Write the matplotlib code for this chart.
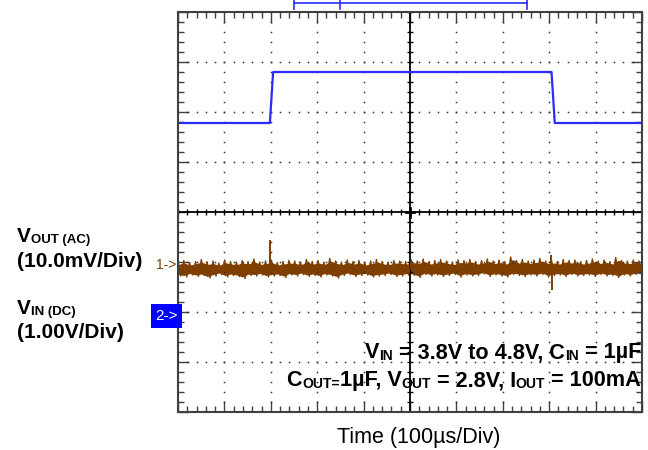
import numpy as np
import matplotlib.pyplot as plt
from matplotlib.transforms import IdentityTransform, blended_transform_factory

plt.rcParams['font.family'] = ['Liberation Sans', 'DejaVu Sans']

W, H = 648, 450

# channel 2 (VIN, 1 V/div, reference at -2 div) - time in us, level in divisions
vin_t = [-500, -302, -295, 305, 312, 500]
vin_div = [1.78, 1.78, 2.80, 2.80, 1.78, 1.78]

# channel 1 (VOUT AC, 10 mV/div) - noise band edges
vout_upper = [-1.00, -0.97, -1.01, -0.99, -0.95, -1.00, -0.98, -1.02, -0.96, -0.99,
              -1.00, -0.97, -0.99, -0.94, -1.00, -0.98, -0.96, -1.01, -0.99, -0.97,
              -0.98, -1.00, -0.95, -0.99, -0.97, -1.00, -0.93, -0.98, -1.00, -0.96,
              -0.99, -0.97, -1.01, -0.98, -0.95, -0.99, -1.00, -0.97, -0.98, -0.99,
              -0.96, -0.98, -0.94, -0.99, -0.97, -0.95, -0.98, -1.00, -0.96, -0.97,
              -0.95, -0.99, -0.97, -0.94, -0.98, -0.96, -0.99, -0.90, -0.97, -0.95,
              -0.98, -0.96, -0.93, -0.98, -0.97, -0.99, -0.95, -0.97, -0.96, -0.99,
              -0.97, -0.94, -0.98, -0.96, -0.99, -0.91, -0.97, -0.98, -0.96, -0.98]
vout_lower = [-1.28, -1.30, -1.26, -1.29, -1.27, -1.32, -1.28, -1.25, -1.30, -1.27,
              -1.29, -1.33, -1.27, -1.28, -1.26, -1.30, -1.28, -1.27, -1.31, -1.26,
              -1.28, -1.25, -1.29, -1.27, -1.30, -1.26, -1.28, -1.32, -1.27, -1.25,
              -1.29, -1.27, -1.26, -1.30, -1.28, -1.27, -1.25, -1.29, -1.28, -1.26,
              -1.27, -1.31, -1.25, -1.28, -1.26, -1.29, -1.27, -1.25, -1.30, -1.26,
              -1.28, -1.27, -1.24, -1.29, -1.26, -1.28, -1.30, -1.25, -1.27, -1.29,
              -1.26, -1.28, -1.25, -1.30, -1.27, -1.26, -1.29, -1.25, -1.28, -1.27,
              -1.26, -1.29, -1.25, -1.28, -1.27, -1.31, -1.26, -1.28, -1.25, -1.27]
spike_t = [-301, 304, 306]
spike_top = [-0.55, -0.86, -1.10]
spike_bot = [-1.10, -1.10, -1.56]

ch1_ref = -1.06
ch2_ref = -2.0

BLUE = '#2b2bff'
BROWN = '#7f3f00'
FRAME = '#404040'

fig = plt.figure(figsize=(W / 100, H / 100), dpi=100)
ax = fig.add_axes([178 / W, 1 - 412 / H, 464 / W, 400 / H])
ax.set_xlim(-500, 500)
ax.set_ylim(-4, 4)

# dotted graticule
maj_x = np.arange(-500, 501, 100)
maj_y = np.arange(-4, 5, 1)
min_x = np.arange(-500, 501, 20)
min_y = np.arange(-4, 4.01, 0.2)
for x in maj_x[1:-1]:
    if x != 0:
        ax.plot(np.full(len(min_y), x), min_y, ls='none', marker='s', ms=1.1,
                mew=0, color='#333333')
for y in maj_y[1:-1]:
    if y != 0:
        ax.plot(min_x, np.full(len(min_x), y), ls='none', marker='s', ms=1.1,
                mew=0, color='#333333')

# centre cross with small ticks
ax.axvline(0, color='black', lw=1.3)
ax.axhline(0, color='black', lw=1.3)
ax.hlines(min_y, -6.5, 6.5, color='black', lw=1)
ax.vlines(min_x, -0.06, 0.06, color='black', lw=1)
ax.plot([-8, 8], [0, 0], color='black', lw=2)
ax.plot([0, 0], [-0.09, 0.09], color='black', lw=2)

# traces
ax.plot(vin_t, vin_div, color=BLUE, lw=1.6)

n = len(vout_upper)
t_noise = np.linspace(-500, 500, 2 * n)
zig = np.empty(2 * n)
zig[0::2] = vout_upper
zig[1::2] = vout_lower
ax.fill_between(np.linspace(-500, 500, n), np.array(vout_upper) - 0.05,
                np.array(vout_lower) + 0.03, color=BROWN, lw=0)
ax.plot(t_noise, zig, color=BROWN, lw=1.0)
ax.vlines(spike_t, spike_bot, spike_top, color=BROWN, lw=1.4)

# frame ticks
ax.set_xticks(maj_x)
ax.set_yticks(maj_y)
ax.set_xticks(min_x, minor=True)
ax.set_yticks(min_y, minor=True)
ax.tick_params(which='both', direction='in', top=True, right=True,
               labelbottom=False, labelleft=False, color=FRAME, width=1)
ax.tick_params(which='major', length=8)
ax.tick_params(which='minor', length=4)
for sp in ax.spines.values():
    sp.set_color(FRAME)
    sp.set_linewidth(1.5)

# channel markers
tr = blended_transform_factory(ax.transAxes, ax.transData)
ax.text(-0.004, ch1_ref, '1->', transform=tr, ha='right', va='center',
        fontsize=10, color=BROWN, clip_on=False)
ax.text(-0.001, ch2_ref - 0.08, '2->', transform=tr, ha='right', va='center',
        fontsize=11, color='white', clip_on=False,
        bbox=dict(boxstyle='square,pad=0.3', fc='#0000ff', ec='none'))

# record bracket above the screen
tb = blended_transform_factory(ax.transData, fig.transFigure)
yb = 1 - 3 / H
ax.plot([-250, 252], [yb, yb], color=BLUE, lw=1.2, transform=tb, clip_on=False)
for x in [-250, -151, 252]:
    ax.plot([x, x], [1, 1 - 9 / H], color=BLUE, lw=1.2, transform=tb, clip_on=False)

renderer = fig.canvas.get_renderer()


def runs(x, y, parts, ha='left', weight='bold', color='black'):
    objs = []
    for s, size, dy in parts:
        t = fig.text(0, 0, s, fontsize=size, fontweight=weight, va='baseline',
                     ha='left', color=color, transform=IdentityTransform())
        objs.append((t, dy))
    widths = [t.get_window_extent(renderer).width for t, _ in objs]
    x0 = x - sum(widths) if ha == 'right' else x
    for (t, dy), w in zip(objs, widths):
        t.set_position((x0, H - y - dy))
        x0 += w


BIG, SUB = 15, 9.5
runs(17, 242, [('V', BIG, 0), ('OUT (AC)', SUB, 1)])
runs(17, 267, [('(10.0mV/Div)', BIG, 0)])
runs(17, 314, [('V', BIG, 0), ('IN (DC)', SUB, 1)])
runs(17, 338, [('(1.00V/Div)', BIG, 0)])

A, AS = 15.6, 10
runs(641, 358, [('V', A, 0), ('IN', AS, 1.7), (' = 3.8V to 4.8V, C', A, 0),
                ('IN', AS, 1.7), (' = 1\u00b5F', A, 0)], ha='right')
runs(641, 386, [('C', A, 0), ('OUT=', AS, 1.7), ('1\u00b5F, V', A, 0),
                ('OUT', AS, 1.7), (' = 2.8V, I', A, 0), ('OUT', AS, 1.7),
                (' = 100mA', A, 0)], ha='right')

fig.text(419 / W, 1 - 438 / H, 'Time (100\u00b5s/Div)', ha='center', va='center',
         fontsize=15.5)

fig.savefig('out.png', dpi=100)
